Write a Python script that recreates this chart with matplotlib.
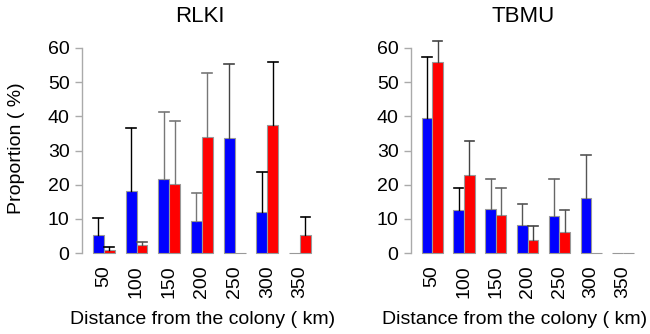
import numpy as np
import matplotlib
matplotlib.use("Agg")
import matplotlib.pyplot as plt

plt.rcParams['font.family'] = ['Liberation Sans', 'DejaVu Sans']

distances = ['50', '100', '150', '200', '250', '300', '350']

# RLKI
rlki_blue = [5.2, 18.2, 21.7, 9.5, 33.6, 12.0, 0.0]
rlki_blue_err = [10.1, 36.5, 41.4, 17.6, 55.4, 23.8, None]
rlki_red = [1.0, 2.2, 20.2, 34.0, 0.0, 37.4, 5.2]
rlki_red_err = [1.8, 3.2, 38.5, 52.6, None, 55.8, 10.6]

# TBMU
tbmu_blue = [39.5, 12.5, 12.9, 8.2, 10.9, 16.0, 0.0]
tbmu_blue_err = [57.4, 18.9, 21.6, 14.2, 21.6, 28.6, None]
tbmu_red = [55.9, 22.8, 11.1, 3.8, 6.1, 0.0, 0.0]
tbmu_red_err = [62.1, 32.9, 18.9, 7.8, 12.5, None, None]

# error bar line colours (some drawn darker than others in the original)
rlki_blue_ec = ['k', 'k', '#777777', '#777777', '#444444', 'k', 'k']
rlki_red_ec = ['k', '#555555', '#777777', '#777777', 'k', 'k', 'k']
tbmu_blue_ec = ['k', 'k', '#666666', '#555555', '#666666', '#555555', 'k']
tbmu_red_ec = ['#444444', '#444444', '#666666', '#444444', '#555555', 'k', 'k']

fig = plt.figure(figsize=(6.5, 3.34), dpi=100)
W, H = 650.0, 334.0


def panel(ax, blue, blue_err, red, red_err, bec, rec):
    n = len(blue)
    xb = 1.5 + 3 * np.arange(n)
    xr = 2.5 + 3 * np.arange(n)
    ax.bar(xb, blue, width=1.0, color='blue', edgecolor='#999999', linewidth=0.8, clip_on=False, zorder=2)
    ax.bar(xr, red, width=1.0, color='red', edgecolor='#999999', linewidth=0.8, clip_on=False, zorder=2)
    for xs, vals, errs, ecs in [(xb, blue, blue_err, bec), (xr, red, red_err, rec)]:
        for x, v, e, c in zip(xs, vals, errs, ecs):
            if e is None:
                continue
            ax.plot([x, x], [v, e], color=c, lw=1.0, zorder=3, clip_on=False)
            ax.plot([x - 0.45, x + 0.45], [e, e], color=c, lw=1.2, zorder=3, clip_on=False)
    ax.set_xlim(0, 22)
    ax.set_ylim(0, 60)
    ax.set_yticks(np.arange(0, 61, 10))
    ax.set_xticks(2 + 3 * np.arange(n))
    ax.set_xticklabels(distances, rotation=90, va='top', ha='center')
    for s in ['top', 'right', 'bottom']:
        ax.spines[s].set_visible(False)
    ax.spines['left'].set_color('#aaaaaa')
    ax.spines['left'].set_linewidth(1.0)
    ax.tick_params(axis='y', length=5, width=1.0, color='#aaaaaa', labelsize=14, pad=4)
    ax.tick_params(axis='x', length=0, labelsize=14, pad=9)


ax1 = fig.add_axes([82 / W, (334 - 253) / H, 22 * 10.9 / W, 205 / H])
panel(ax1, rlki_blue, rlki_blue_err, rlki_red, rlki_red_err, rlki_blue_ec, rlki_red_ec)
ax2 = fig.add_axes([411 / W, (334 - 253) / H, 22 * 10.6 / W, 205 / H])
panel(ax2, tbmu_blue, tbmu_blue_err, tbmu_red, tbmu_red_err, tbmu_blue_ec, tbmu_red_ec)

fig.text(200 / W, 1 - 16 / H, 'RLKI', ha='center', va='center', fontsize=16)
fig.text(523 / W, 1 - 16 / H, 'TBMU', ha='center', va='center', fontsize=16)
fig.text(203 / W, 1 - 319 / H, 'Distance from the colony ( km)', ha='center', va='center', fontsize=14)
fig.text(515 / W, 1 - 319 / H, 'Distance from the colony ( km)', ha='center', va='center', fontsize=14)
fig.text(17 / W, 1 - 148 / H, 'Proportion ( %)', ha='center', va='center', rotation=90, fontsize=14)

fig.savefig('out.png', dpi=100)
